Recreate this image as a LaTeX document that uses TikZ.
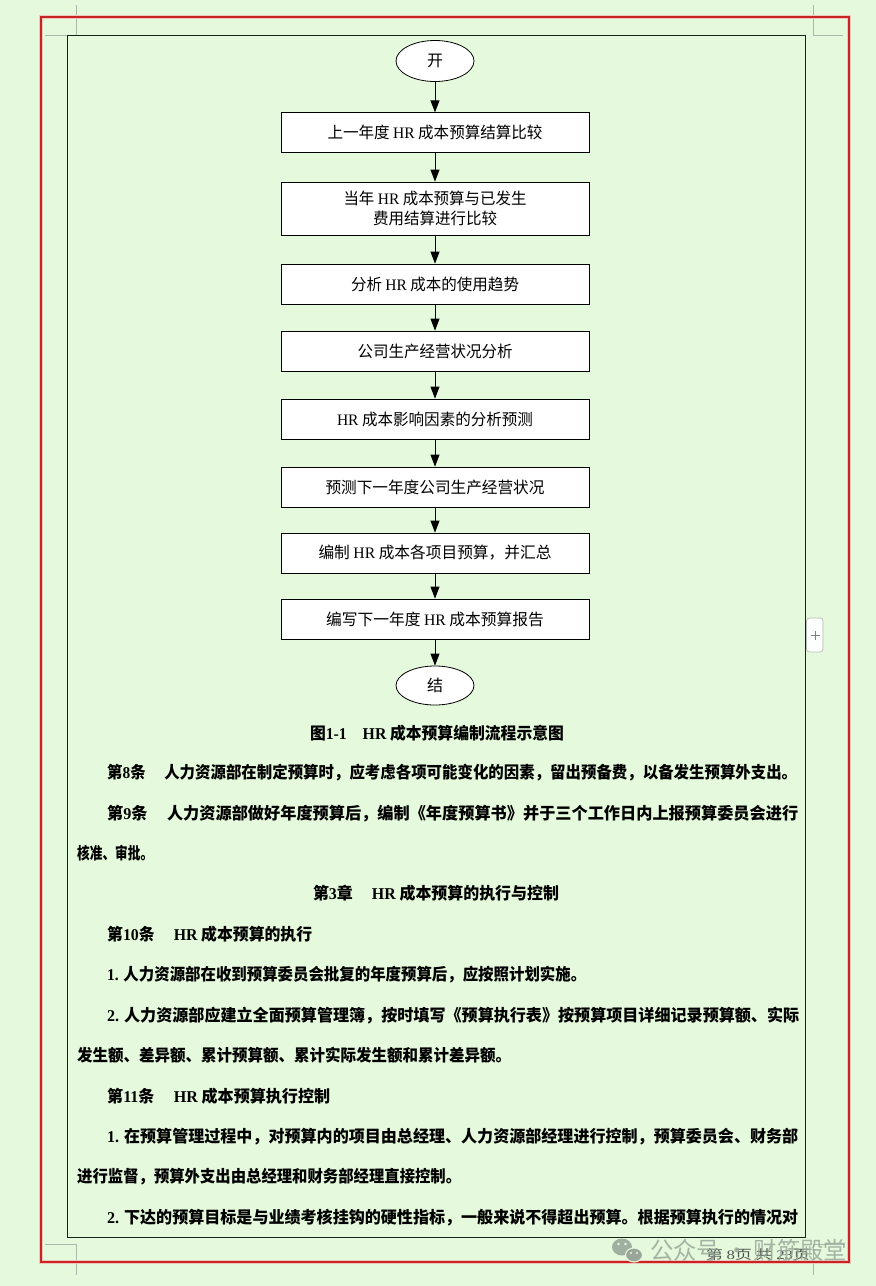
\documentclass[tikz,border=0pt]{standalone}
\usepackage{fontspec}
\usepackage{graphicx}
\setmainfont{Liberation Serif}
\newfontfamily\cjk{Noto Sans CJK SC}
\usetikzlibrary{shapes.geometric,arrows.meta}
\definecolor{bg}{RGB}{229,250,220}
\definecolor{redline}{RGB}{200,36,36}
\definecolor{redglow}{RGB}{240,198,188}
\definecolor{framec}{RGB}{20,36,20}
\definecolor{cropc}{RGB}{172,184,172}
\definecolor{wmc}{RGB}{150,162,150}
\definecolor{pagec}{RGB}{80,84,80}
\newsavebox\fitbox
\newcommand\fitto[2]{\sbox\fitbox{#2}\pgfmathsetmacro\fitratio{#1/\the\wd\fitbox}\scalebox{\fitratio}[1]{\usebox\fitbox}}
\newcommand\HRt{{\rmfamily HR}}
\begin{document}
\begin{tikzpicture}[x=1pt,y=-1pt,
  box/.style={draw=black, fill=white, line width=0.8pt, minimum width=308pt, minimum height=40pt, inner sep=0pt, align=center, font=\cjk\fontsize{16}{20}\selectfont},
  term/.style={ellipse, draw=black, fill=white, line width=0.8pt, minimum width=78pt, minimum height=41pt, inner sep=0pt, font=\cjk\fontsize{16}{20}\selectfont},
  flow/.style={-{Triangle[length=12pt,width=9pt]}, line width=0.8pt, draw=black},
  bodyline/.style={anchor=west, inner sep=0pt, font=\cjk\bfseries\fontsize{16.5}{18}\selectfont},
  headline/.style={anchor=center, inner sep=0pt, font=\cjk\bfseries\fontsize{16.5}{18}\selectfont},
  crop/.style={draw=cropc, line width=0.8pt}
]
\fill[bg] (0,0) rectangle (876,1286);
\useasboundingbox (0,0) rectangle (876,1286);

% crop marks
\draw[crop] (76,5) -- (76,35) (45,35) -- (76,35);
\draw[crop] (813,5) -- (813,35) (813,35) -- (843,35);
\draw[crop] (45,1244) -- (76,1244) (76,1244) -- (76,1275);
\draw[crop] (813,1244) -- (845,1244) (813,1244) -- (813,1275);

% red border
\draw[redglow, line width=4.5pt] (41,17) rectangle (849,1262);
\draw[redline, line width=2pt] (41,17) rectangle (849,1262);

% page frame
\draw[framec, line width=0.9pt] (67.5,35.5) rectangle (805.5,1237.5);

% plus tab
\draw[rounded corners=3pt, draw=gray!55, fill=white!92!bg, line width=0.7pt] (806.5,618) rectangle (823,652);
\draw[gray, line width=0.8pt] (810.5,635) -- (819.5,635) (815,630.5) -- (815,639.5);

% flowchart
\node[term] (start) at (435,61) {开};
\node[box, minimum height=39.5pt] (b1) at (435,132.5) {\fitto{215}{上一年度 \HRt{} 成本预算结算比较}};
\node[box, minimum height=53pt] (b2) at (435,208.5) {\fitto{183}{当年 \HRt{} 成本预算与已发生}\\\fitto{124}{费用结算进行比较}};
\node[box] (b3) at (435,284) {\fitto{168}{分析 \HRt{} 成本的使用趋势}};
\node[box] (b4) at (435,351) {\fitto{155}{公司生产经营状况分析}};
\node[box] (b5) at (435,419) {\fitto{196}{\HRt{} 成本影响因素的分析预测}};
\node[box] (b6) at (435,487) {\fitto{219}{预测下一年度公司生产经营状况}};
\node[box] (b7) at (435,553) {\fitto{233}{编制 \HRt{} 成本各项目预算，并汇总}};
\node[box] (b8) at (435,619) {\fitto{218}{编写下一年度 \HRt{} 成本预算报告}};
\node[term, minimum height=39pt] (end) at (435,685.5) {结};

\draw[flow] (start) -- (b1);
\draw[flow] (b1) -- (b2);
\draw[flow] (b2) -- (b3);
\draw[flow] (b3) -- (b4);
\draw[flow] (b4) -- (b5);
\draw[flow] (b5) -- (b6);
\draw[flow] (b6) -- (b7);
\draw[flow] (b7) -- (b8);
\draw[flow] (b8) -- (end);

% caption and body text
\node[headline] (cap) at (437,733) {\fitto{254}{图{\rmfamily 1-1}\hspace{1em}\HRt{} 成本预算编制流程示意图}};
\node[bodyline] (l1) at (107,773) {\fitto{690}{第{\rmfamily 8}条\hspace{1.2em}人力资源部在制定预算时，应考虑各项可能变化的因素，留出预备费，以备发生预算外支出。}};
\node[bodyline] (l2) at (107,814) {\fitto{691}{第{\rmfamily 9}条\hspace{1.2em}人力资源部做好年度预算后，编制《年度预算书》并于三个工作日内上报预算委员会进行}};
\node[bodyline] (l3) at (77,853) {\fitto{76}{核准、审批。}};
\node[headline] (h3) at (436,893) {\fitto{246}{第{\rmfamily 3}章\hspace{1.2em}\HRt{} 成本预算的执行与控制}};
\node[bodyline] (l4) at (107,934) {\fitto{205}{第{\rmfamily 10}条\hspace{1.2em}\HRt{} 成本预算的执行}};
\node[bodyline] (l5) at (107,975) {\fitto{479}{{\rmfamily 1.} 人力资源部在收到预算委员会批复的年度预算后，应按照计划实施。}};
\node[bodyline] (l6) at (107,1016) {\fitto{692}{{\rmfamily 2.} 人力资源部应建立全面预算管理簿，按时填写《预算执行表》按预算项目详细记录预算额、实际}};
\node[bodyline] (l7) at (77,1055) {\fitto{434}{发生额、差异额、累计预算额、累计实际发生额和累计差异额。}};
\node[bodyline] (l8) at (107,1096) {\fitto{223}{第{\rmfamily 11}条\hspace{1.2em}\HRt{} 成本预算执行控制}};
\node[bodyline] (l9) at (107,1137) {\fitto{691}{{\rmfamily 1.} 在预算管理过程中，对预算内的项目由总经理、人力资源部经理进行控制，预算委员会、财务部}};
\node[bodyline] (l10) at (77,1177) {\fitto{384}{进行监督，预算外支出由总经理和财务部经理直接控制。}};
\node[bodyline] (l11) at (107,1218) {\fitto{691}{{\rmfamily 2.} 下达的预算目标是与业绩考核挂钩的硬性指标，一般来说不得超出预算。根据预算执行的情况对}};

% page number and watermark (overlapping, as in the reference)
\node[inner sep=0pt, text=pagec, font=\cjk\fontsize{13}{15}\selectfont] (pg) at (758,1255) {\fitto{104}{第 {\rmfamily 8}页 共 {\rmfamily 23}页}};
\fill[wmc, opacity=0.85] (622,1247) ellipse (10 and 8.5);
\fill[wmc, opacity=0.95, draw=bg, line width=1.2pt] (634,1255) ellipse (8.5 and 7);
\fill[bg] (618.5,1244) circle (1.3) (625.5,1244) circle (1.3) (631,1253) circle (1.1) (637,1253) circle (1.1);
\node[inner sep=0pt, text=wmc, opacity=0.8, font=\cjk\fontsize{24}{26}\selectfont] (wm) at (748.5,1250) {\fitto{197}{公众号 · 财筋殿堂}};
\end{tikzpicture}
\end{document}
